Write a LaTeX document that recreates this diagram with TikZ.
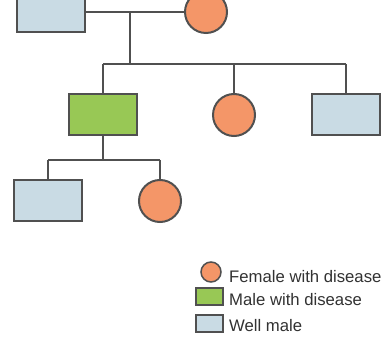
\documentclass[tikz,border=0pt]{standalone}
\usepackage{fontspec}
\setmainfont{Liberation Sans}
\usetikzlibrary{positioning}
\definecolor{wellblue}{RGB}{201,219,228}
\definecolor{sickgreen}{RGB}{152,200,85}
\definecolor{sickorange}{RGB}{244,150,104}
\definecolor{edgegrey}{RGB}{80,80,80}
\definecolor{keytext}{RGB}{50,50,50}

\begin{document}
\begin{tikzpicture}[x=1pt, y=-1pt,
    link/.style={draw=edgegrey, line width=2pt},
    male/.style={rectangle, draw=edgegrey, line width=2pt, inner sep=0pt,
        minimum width=68pt, minimum height=41pt},
    female/.style={circle, draw=edgegrey, line width=2pt, inner sep=0pt,
        minimum size=42pt, fill=sickorange},
    keyfemale/.style={circle, draw=edgegrey, line width=1.5pt, inner sep=0pt,
        minimum size=20pt, fill=sickorange},
    keymale/.style={rectangle, draw=edgegrey, line width=1.5pt, inner sep=0pt,
        minimum width=27pt, minimum height=17pt},
    keylabel/.style={anchor=base west, inner sep=0pt, text=keytext,
        font=\fontsize{16.7}{20}\selectfont}]
    \useasboundingbox (0,0) rectangle (385,347);
    \fill[white] (0,0) rectangle (385,347);
    \clip (0,0) rectangle (385,347);

    \node[male, fill=wellblue] (father) at (51,12) {};
    \node[female] (mother) at (206,12) {};
    \node[male, fill=sickgreen] (son) at (103,115) {};
    \node[female] (daughter) at (234,115) {};
    \node[male, fill=wellblue] (sontwo) at (346,115) {};
    \node[male, fill=wellblue] (grandson) at (48,201) {};
    \node[female] (granddaughter) at (160,201) {};

    \coordinate (couple) at (130,12);
    \coordinate (sibtop) at (130,64);
    \coordinate (sibleft) at (103,64);
    \coordinate (sibright) at (346,64);
    \coordinate (famdrop) at (103,160);
    \coordinate (famleft) at (48,160);
    \coordinate (famright) at (160,160);

    \draw[link] (father) -- (mother);
    \draw[link] (couple) -- (sibtop);
    \draw[link] (sibleft) -- (sibright);
    \draw[link] (sibleft) -- (son);
    \draw[link] (daughter.north |- sibleft) -- (daughter);
    \draw[link] (sibright) -- (sontwo);
    \draw[link] (son) -- (famdrop);
    \draw[link] (famleft) -- (famright);
    \draw[link] (famleft) -- (grandson);
    \draw[link] (famright) -- (granddaughter);

    \node[keyfemale] (keyf) at (211,272) {};
    \node[keymale, fill=sickgreen] (keyg) at (209.5,296.5) {};
    \node[keymale, fill=wellblue] (keyw) at (209.5,323.5) {};
    \node[keylabel] (keyftext) at (229,282) {Female with disease};
    \node[keylabel] (keygtext) at (229,305) {Male with disease};
    \node[keylabel] (keywtext) at (229,331) {Well male};
\end{tikzpicture}
\end{document}
